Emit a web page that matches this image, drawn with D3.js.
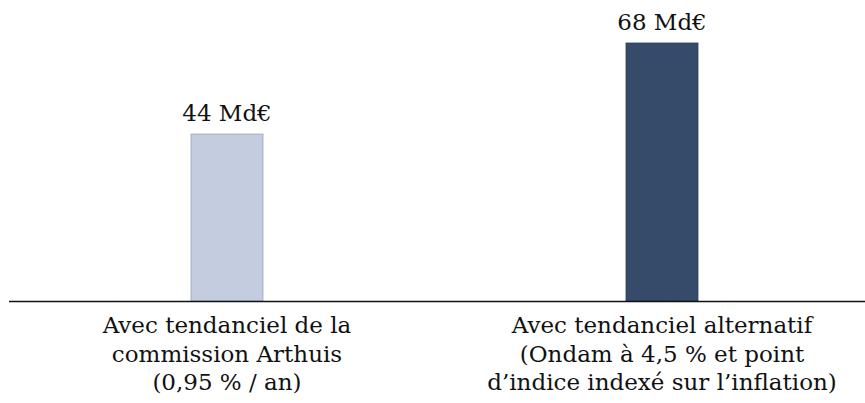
<!DOCTYPE html>
<html>
<head>
<meta charset="utf-8">
<script src="https://cdn.jsdelivr.net/npm/d3@7"></script>
<style>
  body { margin: 0; background: #fff; }
</style>
</head>
<body>
<script>
// data
const categories = ["commission", "alternatif"];
const values = [44, 68];
const valueLabels = ["44 Md€", "68 Md€"];
const categoryLines = [
    ["Avec tendanciel de la", "commission Arthuis", "(0,95 % / an)"],
    ["Avec tendanciel alternatif", "(Ondam à 4,5 % et point", "d’indice indexé sur l’inflation)"]
];
const colors = ["#c3cddf", "#364a6a"];
const strokes = ["#98a4bd", "#2c3d58"];

const svgSize = { width: 865, height: 403 };
const baseY = 301;
const fontFamily = "DejaVu Serif";

const svg = d3.select('body')
    .append('svg')
    .attr('width', svgSize.width)
    .attr('height', svgSize.height);

const xScale = d3.scaleBand()
    .domain(categories)
    .range([9.5, 879.5])
    .padding(0);
const barWidth = 72;

const yScale = d3.scaleLinear()
    .domain([0, 68])
    .range([baseY, 43]);

// bars
svg.selectAll('rect.bar')
    .data(values)
    .enter()
    .append('rect')
    .attr('class', 'bar')
    .attr('x', (d, i) => xScale(categories[i]) + xScale.bandwidth() / 2 - barWidth / 2)
    .attr('y', d => yScale(d))
    .attr('width', barWidth)
    .attr('height', d => baseY - yScale(d))
    .attr('fill', (d, i) => colors[i])
    .attr('stroke', (d, i) => strokes[i])
    .attr('stroke-width', 0.8);

// value labels
svg.selectAll('text.value')
    .data(values)
    .enter()
    .append('text')
    .attr('class', 'value')
    .attr('x', (d, i) => xScale(categories[i]) + xScale.bandwidth() / 2)
    .attr('y', d => yScale(d) - 13)
    .attr('text-anchor', 'middle')
    .attr('font-family', fontFamily)
    .attr('font-size', 23)
    .attr('fill', '#111')
    .text((d, i) => valueLabels[i]);

// axis line
svg.append('line')
    .attr('x1', 9)
    .attr('x2', 865)
    .attr('y1', baseY + 0.5)
    .attr('y2', baseY + 0.5)
    .attr('stroke', '#111')
    .attr('stroke-width', 1.6);

// category labels
const catG = svg.selectAll('text.cat')
    .data(categories)
    .enter()
    .append('text')
    .attr('class', 'cat')
    .attr('text-anchor', 'middle')
    .attr('font-family', fontFamily)
    .attr('font-size', 23)
    .attr('fill', '#111');

catG.selectAll('tspan')
    .data((d, i) => categoryLines[i].map(t => ({ t, c: d })))
    .enter()
    .append('tspan')
    .attr('x', d => xScale(d.c) + xScale.bandwidth() / 2)
    .attr('y', (d, j) => 333 + j * 28.5)
    .text(d => d.t);
</script>
</body>
</html>
